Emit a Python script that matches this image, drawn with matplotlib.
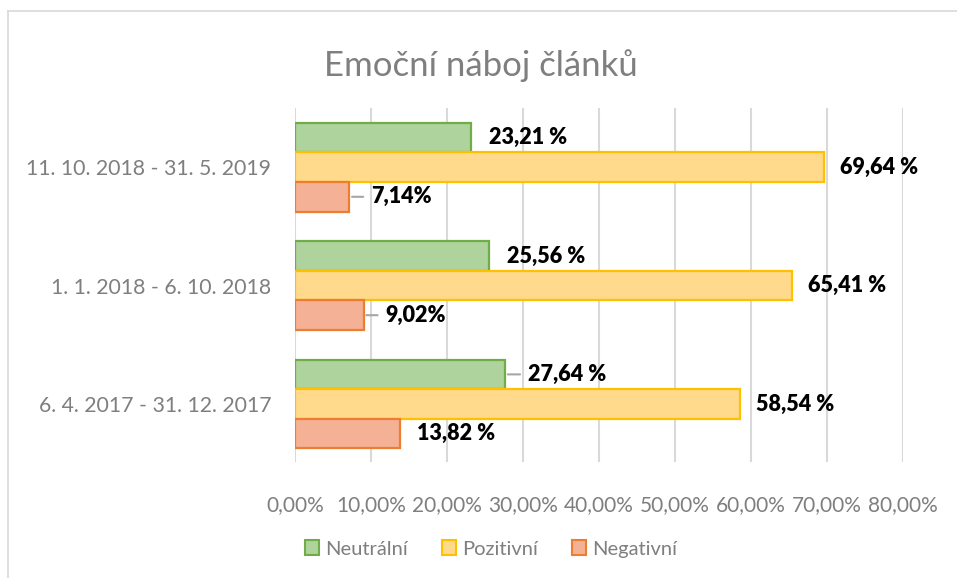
import matplotlib
matplotlib.use("Agg")
import matplotlib.pyplot as plt
from matplotlib.patches import Patch
from matplotlib.lines import Line2D
from matplotlib.ticker import FuncFormatter

plt.rcParams['font.family'] = ['Lato', 'DejaVu Sans']

# data (percent)
periods = ["6. 4. 2017 - 31. 12. 2017", "1. 1. 2018 - 6. 10. 2018",
           "11. 10. 2018 - 31. 5. 2019"]
series_names = ["Neutrální", "Pozitivní", "Negativní"]
neutral = [27.64, 25.56, 23.21]
positive = [58.54, 65.41, 69.64]
negative = [13.82, 9.02, 7.14]
neutral_labels = ["27,64 %", "25,56 %", "23,21 %"]
positive_labels = ["58,54 %", "65,41 %", "69,64 %"]
negative_labels = ["13,82 %", "9,02%", "7,14%"]
x_ticks = [0, 10, 20, 30, 40, 50, 60, 70, 80]

# styling
faces = ["#AED39C", "#FFD98C", "#F5B195"]
edges = ["#70AD47", "#FFC000", "#ED7D31"]
gray = "#7F7F7F"
grid_c = "#D9D9D9"
bar_h = 0.25
offsets = [0.25, 0.0, -0.25]
# label gap from bar end in pixels, and whether a leader line is drawn
label_gap = [[23, 18, 18], [16, 16, 16], [17, 22, 22]]
leader = [[True, False, False], [False, False, False], [False, True, True]]

W, H = 957, 578
fig = plt.figure(figsize=(W / 100, H / 100), dpi=100)
ax = fig.add_axes([295 / W, (H - 462) / H, 608 / W, 354 / H])

all_vals = [neutral, positive, negative]
all_labels = [neutral_labels, positive_labels, negative_labels]
for s in range(3):
    ys = [i + offsets[s] for i in range(len(periods))]
    ax.barh(ys, all_vals[s], height=bar_h, color=faces[s],
            edgecolor=edges[s], linewidth=1.6, zorder=3)
    for i, (y, v) in enumerate(zip(ys, all_vals[s])):
        gap = label_gap[s][i]
        ax.annotate(all_labels[s][i], (v, y), xytext=(gap, 0),
                    textcoords='offset pixels', ha='left', va='center',
                    fontsize=15.5, fontweight='heavy', color='black',
                    zorder=4)
        if leader[s][i]:
            ax.annotate("", (v, y), xytext=(gap - 8, 0),
                        textcoords='offset pixels',
                        arrowprops=dict(arrowstyle='-', color='#A6A6A6',
                                        lw=1.5, shrinkA=0, shrinkB=2))

ax.set_xlim(0, 80)
ax.set_ylim(-0.49, 2.5)
ax.set_xticks(x_ticks)
ax.xaxis.set_major_formatter(
    FuncFormatter(lambda v, p: ("%.2f%%" % v).replace(".", ",")))
ax.set_yticks(range(len(periods)))
ax.set_yticklabels(periods)
ax.tick_params(axis='both', length=0, labelsize=15, labelcolor=gray)
ax.tick_params(axis='y', labelsize=15.3)
ax.tick_params(axis='x', pad=24)
ax.tick_params(axis='y', pad=17)
ax.grid(axis='x', color=grid_c, linewidth=1.5, zorder=0)
for sp in ax.spines.values():
    sp.set_visible(False)

fig.text(481 / W, 1 - 66 / H, "Emoční náboj článků", ha='center',
         va='center', fontsize=25, color=gray)

handles = [Patch(facecolor=faces[i], edgecolor=edges[i], linewidth=1.5)
           for i in range(3)]
fig.legend(handles, series_names, loc='center', ncol=3,
           bbox_to_anchor=(491 / W, 1 - 549 / H), frameon=False,
           fontsize=14.5, labelcolor=gray, handlelength=0.7,
           handleheight=0.7, handletextpad=0.3, columnspacing=1.7)

# chart border (top and left visible)
fig.add_artist(Line2D([8 / W, 1], [1 - 11 / H, 1 - 11 / H],
                      color=grid_c, lw=1.2))
fig.add_artist(Line2D([8 / W, 8 / W], [0, 1 - 11 / H],
                      color=grid_c, lw=1.2))

fig.savefig("out.png", dpi=100)
